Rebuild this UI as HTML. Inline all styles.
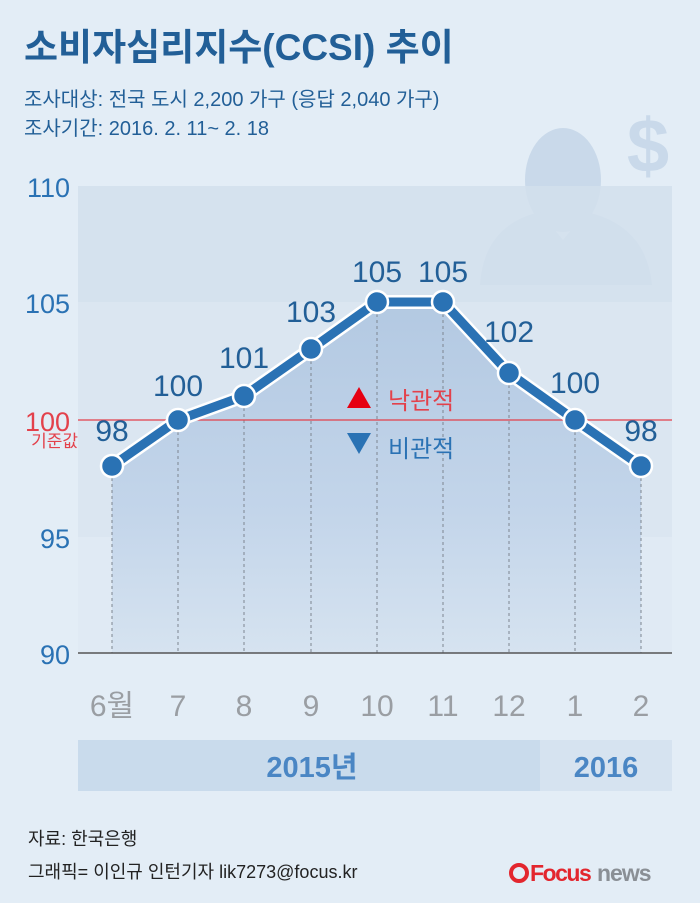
<!DOCTYPE html>
<html><head><meta charset="utf-8"><style>
html,body{margin:0;padding:0;background:#e3edf6}
svg{display:block}
text{font-family:"Liberation Sans","Noto Sans CJK KR",sans-serif}
</style></head><body>
<svg width="700" height="903" viewBox="0 0 700 903" xmlns="http://www.w3.org/2000/svg">
<defs>
<linearGradient id="af" x1="0" y1="0" x2="0" y2="1">
<stop offset="0" stop-color="#b3c9e2"/><stop offset="0.6" stop-color="#c3d5ea"/><stop offset="1" stop-color="#d6e3f0"/>
</linearGradient>
</defs>
<rect width="700" height="903" fill="#e3edf6"/>
<g fill="#c9d9ea">
<ellipse cx="563" cy="180" rx="38" ry="52"/>
<path d="M480 285 Q484 225 540 212 L563 240 L586 212 Q646 225 652 285 Z"/>
<text x="648" y="172" font-size="76" font-weight="bold" text-anchor="middle" fill="#c9d9ea">$</text>
</g>
<rect x="78" y="186" width="594" height="116" fill="#d2dfec" opacity="0.85"/>
<rect x="78" y="302" width="594" height="235" fill="#dbe6f1"/>
<rect x="78" y="537" width="594" height="116" fill="#e0eaf4"/>
<path d="M112 466 L178 420 L244 396 L311 349 L377 302 L443 302 L509 373 L575 420 L641 466 L641 653 L112 653 Z" fill="url(#af)"/>
<g stroke="#7d8590" stroke-width="1" stroke-dasharray="3,3">
<line x1="112" y1="466" x2="112" y2="653"/><line x1="178" y1="420" x2="178" y2="653"/>
<line x1="244" y1="396" x2="244" y2="653"/><line x1="311" y1="349" x2="311" y2="653"/>
<line x1="377" y1="302" x2="377" y2="653"/><line x1="443" y1="302" x2="443" y2="653"/>
<line x1="509" y1="373" x2="509" y2="653"/><line x1="575" y1="420" x2="575" y2="653"/>
<line x1="641" y1="466" x2="641" y2="653"/>
</g>
<line x1="78" y1="420" x2="672" y2="420" stroke="#e3414b" stroke-width="1.2"/>
<line x1="78" y1="653" x2="672" y2="653" stroke="#555" stroke-width="1.5"/>
<polyline points="112,466 178,420 244,396 311,349 377,302 443,302 509,373 575,420 641,466" fill="none" stroke="#fff" stroke-width="14" stroke-linejoin="round"/>
<polyline points="112,466 178,420 244,396 311,349 377,302 443,302 509,373 575,420 641,466" fill="none" stroke="#2a72b4" stroke-width="9" stroke-linejoin="round"/>
<g fill="#2a72b4" stroke="#fff" stroke-width="2.5">
<circle cx="112" cy="466" r="11"/><circle cx="178" cy="420" r="11"/><circle cx="244" cy="396" r="11"/>
<circle cx="311" cy="349" r="11"/><circle cx="377" cy="302" r="11"/><circle cx="443" cy="302" r="11"/>
<circle cx="509" cy="373" r="11"/><circle cx="575" cy="420" r="11"/><circle cx="641" cy="466" r="11"/>
</g>
<g fill="#225f97" font-size="30" text-anchor="middle">
<text x="112" y="441">98</text><text x="178" y="396">100</text><text x="244" y="368">101</text>
<text x="311" y="322">103</text><text x="377" y="282">105</text><text x="443" y="282">105</text>
<text x="509" y="342">102</text><text x="575" y="393">100</text><text x="641" y="441">98</text>
</g>
<path d="M347 408 L359 387 L371 408 Z" fill="#e60012"/>
<text x="388" y="409" font-size="24" fill="#e3414b">낙관적</text>
<path d="M347 433 L371 433 L359 454 Z" fill="#2a72b4"/>
<text x="388" y="457" font-size="24" fill="#2a72b4">비관적</text>
<g fill="#2a72b4" font-size="27" text-anchor="end">
<text x="70" y="197">110</text><text x="70" y="313">105</text>
<text x="70" y="548">95</text><text x="70" y="664">90</text>
</g>
<text x="70" y="431" font-size="27" text-anchor="end" fill="#e3414b">100</text>
<text x="78" y="447" font-size="17" text-anchor="end" fill="#e3414b">기준값</text>
<g fill="#9a9ea3" font-size="30" text-anchor="middle">
<text x="112" y="716">6월</text><text x="178" y="716">7</text><text x="244" y="716">8</text>
<text x="311" y="716">9</text><text x="377" y="716">10</text><text x="443" y="716">11</text>
<text x="509" y="716">12</text><text x="575" y="716">1</text><text x="641" y="716">2</text>
</g>
<rect x="78" y="740" width="462" height="51" fill="#c9dbec"/>
<rect x="540" y="740" width="132" height="51" fill="#d6e3f0"/>
<text x="312" y="777" font-size="29" font-weight="bold" fill="#4a86c4" text-anchor="middle">2015년</text>
<text x="606" y="777" font-size="29" font-weight="bold" fill="#4a86c4" text-anchor="middle">2016</text>
<text x="24" y="60" font-size="37" font-weight="bold" fill="#225f97">소비자심리지수(CCSI) 추이</text>
<text x="24" y="106" font-size="20" fill="#225f97">조사대상: 전국 도시 2,200 가구 (응답 2,040 가구)</text>
<text x="24" y="135" font-size="20" fill="#225f97">조사기간: 2016. 2. 11~ 2. 18</text>
<text x="28" y="845" font-size="18" fill="#222">자료: 한국은행</text>
<text x="28" y="878" font-size="18" fill="#222">그래픽= 이인규 인턴기자 lik7273@focus.kr</text>
<circle cx="519" cy="873" r="8" fill="none" stroke="#e3262e" stroke-width="4"/>
<text x="530" y="881" font-size="23" font-weight="bold" fill="#e3262e" letter-spacing="-1.5">Focus</text>
<text x="597" y="881" font-size="23" font-weight="bold" fill="#8a8f95" letter-spacing="-1">news</text>
</svg>
</body></html>
